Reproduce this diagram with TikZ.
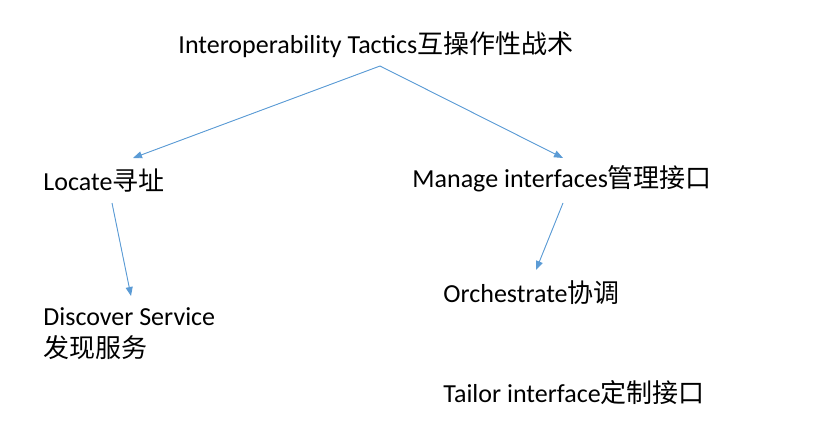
\documentclass[tikz,border=0pt]{standalone}
\usepackage{fontspec}
\setmainfont{Carlito}
\newfontfamily\cjk{Noto Sans CJK SC}
\newcommand{\zh}[1]{{\cjk #1}}
\usetikzlibrary{arrows.meta}

\definecolor{linkblue}{RGB}{91,155,213}

\begin{document}
\begin{tikzpicture}[
			x = 1pt, y = -1pt,
      > = {Triangle[length=9pt,width=7pt]},
			line width = 0.9pt]

			\tikzstyle{tactic}=[
			anchor = base west,
			inner sep = 0pt,
			align = left,
			font = \fontsize{26}{32}\selectfont]

			\tikzstyle{link}=[
			->,
			draw = linkblue,
			fill = linkblue]

			\useasboundingbox (0,0) rectangle (837,447);

			\node[tactic] (tactics) at (178,53) {Interoperability Tactics\zh{互操作性战术}};
			\node[tactic] (locate) at (43,190) {Locate\zh{寻址}};
			\node[tactic] (manage) at (412,187) {Manage interfaces\zh{管理接口}};
			\node[tactic] (discover) at (43,357) {Discover Service\\\zh{发现服务}};
			\node[tactic] (orchestrate) at (443,302) {Orchestrate\zh{协调}};
			\node[tactic] (tailor) at (443,402) {Tailor interface\zh{定制接口}};

			\draw[link] ([shift={(202,13)}]tactics.base west) -- ([shift={(90,-32)}]locate.base west);
			\draw[link] ([shift={(202,13)}]tactics.base west) -- ([shift={(151,-29)}]manage.base west);
			\draw[link] ([shift={(69,13)}]locate.base west) -- ([shift={(88,-61)}]discover.base west);
			\draw[link] ([shift={(151,16)}]manage.base west) -- ([shift={(93,-32)}]orchestrate.base west);
		\end{tikzpicture}
\end{document}
